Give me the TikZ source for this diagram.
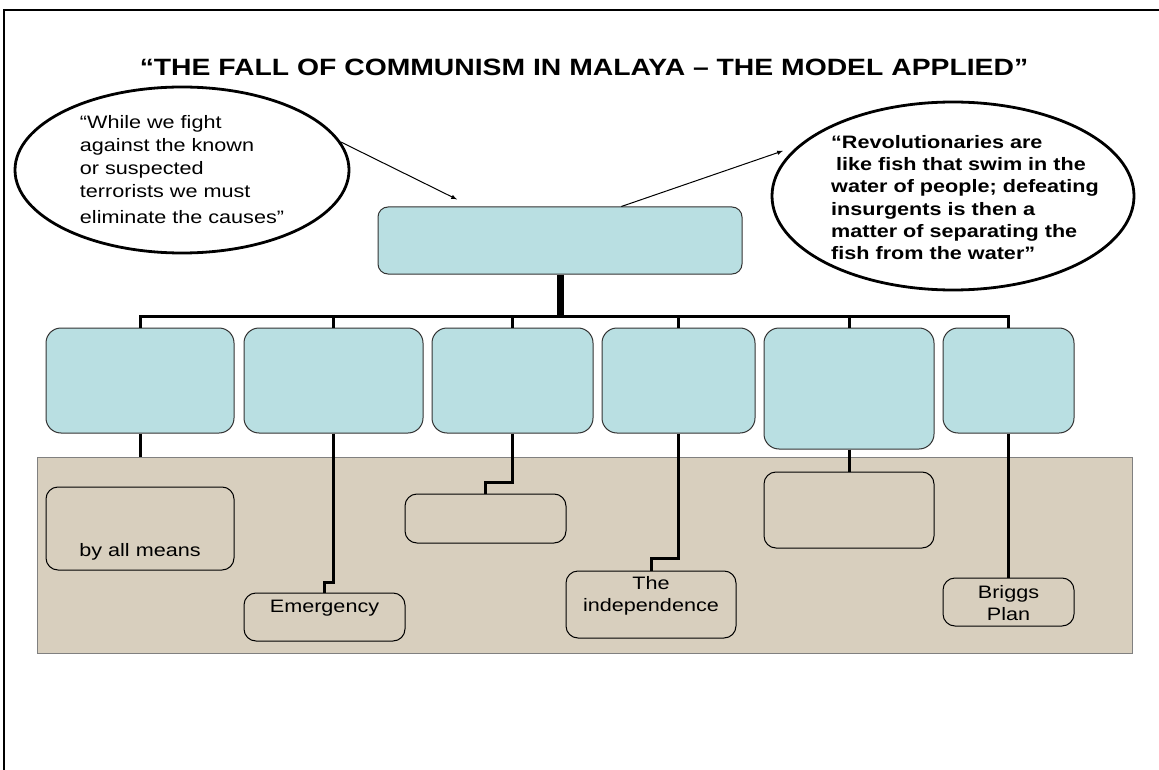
\documentclass[tikz,border=0pt]{standalone}
\usepackage{fontspec}
\setmainfont{Liberation Sans}[FakeStretch=1.2]
\usetikzlibrary{shapes.geometric}
\definecolor{pillarcyan}{RGB}{185,223,226}
\definecolor{canvasbeige}{RGB}{216,207,190}
\tikzset{
  pillar/.style={draw=black!80, fill=pillarcyan, rounded corners=15pt, line width=1pt, inner sep=0pt},
  note/.style={draw=black, rounded corners=12pt, line width=1pt, inner sep=0pt, font=\fontsize{18}{22}\selectfont},
  bubble/.style={ellipse, draw, line width=2.8pt, inner sep=0pt},
  link/.style={line width=3pt},
}
\begin{document}
\begin{tikzpicture}[x=1pt, y=-1pt, font=\fontsize{18}{23}\selectfont]
  \useasboundingbox (0,0) rectangle (1159,770);
  \draw[line width=1.3pt] (4,770) -- (4,10) -- (1159,10);

  \node[anchor=base, font=\fontsize{23.6}{28}\selectfont\bfseries] (title) at (584,76) {“THE FALL OF COMMUNISM IN MALAYA – THE MODEL APPLIED”};

  \node[bubble, minimum width=334pt, minimum height=166pt, align=left] (lquote) at (182,170) {“While we fight\\against the known\\or suspected\\terrorists we must\\[3pt]eliminate the causes”};
  \node[bubble, minimum width=362pt, minimum height=188pt] (rquote) at (953,196) {};
  \node[align=left, font=\fontsize{18}{22.2}\selectfont\bfseries] (rquotetext) at (965,197.5) {“Revolutionaries are\\\hspace*{5pt}like fish that swim in the\\water of people; defeating\\insurgents is then a\\matter of separating the\\fish from the water”};

  \node[pillar, minimum width=364pt, minimum height=67pt, rounded corners=10pt] (head) at (560,240.5) {};
  \node[pillar, minimum width=188pt, minimum height=105pt] (pillar1) at (140,380.5) {};
  \node[pillar, minimum width=179pt, minimum height=105pt] (pillar2) at (333.5,380.5) {};
  \node[pillar, minimum width=161pt, minimum height=105pt] (pillar3) at (512.5,380.5) {};
  \node[pillar, minimum width=153pt, minimum height=105pt] (pillar4) at (678.5,380.5) {};
  \node[pillar, minimum width=170pt, minimum height=121pt] (pillar5) at (849,388.5) {};
  \node[pillar, minimum width=131pt, minimum height=105pt] (pillar6) at (1008.5,380.5) {};

  \node[draw=black!50, fill=canvasbeige, minimum width=1095pt, minimum height=196pt, inner sep=0pt] (field) at (584.5,555) {};

  \node[note] (note1) at (140,528.5) {\parbox[c][83pt][b]{188pt}{\centering by all means\par\vspace*{10pt}}};
  \node[note] (note2) at (324.5,617) {\parbox[c][48pt][t]{161pt}{\centering\vspace*{7pt}Emergency}};
  \node[note, minimum width=161pt, minimum height=49pt] (note3) at (485.5,518.5) {};
  \node[note] (note4) at (651,604.5) {\parbox[c][67pt][t]{170pt}{\centering\vspace*{5pt}The\\independence}};
  \node[note, minimum width=170pt, minimum height=76pt] (note5) at (849,510) {};
  \node[note] (note6) at (1008.5,602) {\parbox[c][48pt][t]{131pt}{\centering\vspace*{7pt}Briggs\\Plan}};

  \coordinate (bus) at (560,316);
  \draw[line width=7pt] (head.south) -- (bus);
  \draw[link] (bus) -| (pillar1.north);
  \draw[link] (bus) -| (pillar2.north);
  \draw[link] (bus) -| (pillar3.north);
  \draw[link] (bus) -| (pillar4.north);
  \draw[link] (bus) -| (pillar5.north);
  \draw[link] (bus) -| (pillar6.north);

  \draw[link] (pillar1.south) -- (pillar1.south |- field.north);
  \draw[link] (pillar2.south) -- ++(0,149) -| (note2.north);
  \draw[link] (pillar3.south) -- ++(0,49) -| (note3.north);
  \draw[link] (pillar4.south) -- ++(0,125) -| (note4.north);
  \draw[link] (pillar5.south) -- (note5.north);
  \draw[link] (pillar6.south) -- (note6.north);

  \draw[->, >=latex, line width=1pt, shorten >=16pt] (lquote.10) -- (head.159);
  \draw[->, >=latex, line width=1pt, shorten >=16pt] (head.29) -- (rquote.162);
\end{tikzpicture}
\end{document}
